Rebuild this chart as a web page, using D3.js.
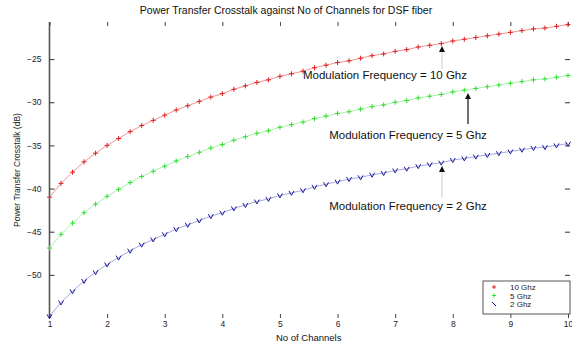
<!DOCTYPE html>
<html><head><meta charset="utf-8">
<script src="https://cdn.jsdelivr.net/npm/d3@7/dist/d3.min.js"></script>
<style>body{margin:0;background:#fff}svg{display:block;font-family:"Liberation Sans",Arial,sans-serif}</style>
</head><body>
<svg id="c" width="572" height="344"></svg>
<script>
const channels = [1,1.2,1.4,1.6,1.8,2,2.2,2.4,2.6,2.8,3,3.2,3.4,3.6,3.8,4,4.2,4.4,4.6,4.8,5,5.2,5.4,5.6,5.8,6,6.2,6.4,6.6,6.8,7,7.2,7.4,7.6,7.8,8,8.2,8.4,8.6,8.8,9,9.2,9.4,9.6,9.8,10];
const crosstalk10 = [-41.0,-39.4,-38.1,-36.9,-35.9,-35.0,-34.2,-33.4,-32.7,-32.1,-31.5,-30.9,-30.4,-29.9,-29.4,-29.0,-28.5,-28.1,-27.7,-27.4,-27.0,-26.7,-26.4,-26.0,-25.7,-25.4,-25.2,-24.9,-24.6,-24.4,-24.1,-23.9,-23.6,-23.4,-23.2,-22.9,-22.7,-22.5,-22.3,-22.1,-21.9,-21.7,-21.5,-21.4,-21.2,-21.0];
const crosstalk5 = [-46.9,-45.3,-44.0,-42.8,-41.8,-40.9,-40.1,-39.3,-38.6,-38.0,-37.4,-36.8,-36.3,-35.8,-35.3,-34.9,-34.4,-34.0,-33.6,-33.3,-32.9,-32.6,-32.3,-31.9,-31.6,-31.3,-31.1,-30.8,-30.5,-30.3,-30.0,-29.8,-29.5,-29.3,-29.1,-28.8,-28.6,-28.4,-28.2,-28.0,-27.8,-27.6,-27.4,-27.3,-27.1,-26.9];
const crosstalk2 = [-54.8,-53.2,-51.9,-50.7,-49.7,-48.8,-48.0,-47.2,-46.5,-45.9,-45.3,-44.7,-44.2,-43.7,-43.2,-42.8,-42.3,-41.9,-41.5,-41.2,-40.8,-40.5,-40.2,-39.8,-39.5,-39.2,-38.9,-38.7,-38.4,-38.2,-37.9,-37.7,-37.4,-37.2,-37.0,-36.7,-36.5,-36.3,-36.1,-35.9,-35.7,-35.5,-35.3,-35.2,-35.0,-34.8];
const seriesNames = ["10 Ghz","5 Ghz","2 Ghz"];
const xTicks = [1,2,3,4,5,6,7,8,9,10];
const yTicks = [-25,-30,-35,-40,-45,-50];
const titleText = "Power Transfer Crosstalk against No of Channels for DSF fiber";
const xLabel = "No of Channels";
const yLabel = "Power Transfer Crosstalk (dB)";
const annotations = ["Modulation Frequency = 10 Ghz","Modulation Frequency = 5 Ghz","Modulation Frequency = 2 Ghz"];

const svg = d3.select("#c");
const L=49.5, R=568, T=22, B=318;
const x = d3.scaleLinear().domain([1,10]).range([L,R]);
const y = d3.scaleLinear().domain([-55,-20.7]).range([B,T]);

// axes (ticks inward)
const gL = svg.append("g").attr("transform",`translate(${L},0)`)
  .call(d3.axisLeft(y).tickValues(yTicks).tickSize(-5).tickPadding(8).tickFormat(d3.format("d")));
gL.select(".domain").attr("stroke","#555").attr("stroke-width",1.6).attr("d",`M0,${T}V${B}`);
gL.selectAll("text").attr("font-size",8.5).attr("fill","#222");
gL.selectAll(".tick line").attr("stroke","#333");

const gR = svg.append("g").attr("transform",`translate(${R+2},0)`)
  .call(d3.axisRight(y).tickValues(yTicks).tickSize(-5).tickFormat(""));
gR.select(".domain").remove();
gR.selectAll(".tick line").attr("stroke","#333");

const gB = svg.append("g").attr("transform",`translate(0,${B})`)
  .call(d3.axisBottom(x).tickValues(xTicks).tickSize(-4).tickPadding(3).tickFormat(d3.format("d")));
gB.select(".domain").remove();
gB.selectAll("text").attr("font-size",8.5).attr("fill","#222");
gB.selectAll(".tick line").attr("stroke","#444");

const gT = svg.append("g").attr("transform",`translate(0,${T})`)
  .call(d3.axisTop(x).tickValues(xTicks).tickSize(-4).tickFormat(""));
gT.select(".domain").remove();
gT.selectAll(".tick line").attr("stroke","#444");

// series
const series = [
  {vals:crosstalk10, color:"#dd2222", line:"rgba(225,60,60,0.55)", mk:"plus"},
  {vals:crosstalk5, color:"#33dd33", line:"rgba(90,230,90,0.5)", mk:"plus"},
  {vals:crosstalk2, color:"#1a1a99", line:"rgba(60,60,190,0.45)", mk:"tri"}
];
const line = d3.line().x((d,i)=>x(channels[i])).y(d=>y(d));
series.forEach(s=>{
  svg.append("path").attr("d",line(s.vals)).attr("fill","none").attr("stroke",s.line).attr("stroke-width",1);
  const g = svg.append("g");
  s.vals.forEach((v,i)=>{
    const cx=x(channels[i]), cy=y(v);
    if(s.mk==="plus"){
      g.append("path").attr("d",`M${cx-2.5},${cy}H${cx+2.5}M${cx},${cy-2.5}V${cy+2.5}`).attr("stroke",s.color).attr("stroke-width",1);
    } else {
      g.append("path").attr("d",`M${cx-2.5},${cy-2}L${cx},${cy+2.5}L${cx+2.5},${cy-2}`).attr("fill","none").attr("stroke",s.color).attr("stroke-width",1);
    }
  });
});

// title and labels
svg.append("text").attr("x",286).attr("y",14).attr("text-anchor","middle").attr("font-size",10.5).attr("fill","#111").text(titleText);
svg.append("text").attr("x",(L+R)/2).attr("y",341).attr("text-anchor","middle").attr("font-size",9.5).attr("fill","#111").text(xLabel);
svg.append("text").attr("transform",`translate(20,${(T+B)/2}) rotate(-90)`).attr("text-anchor","middle").attr("font-size",8.5).attr("fill","#222").text(yLabel);

// annotations with arrows
const ann = [
  {t:annotations[0], tx:385, ty:79, ax:442, ay1:69, ay2:46, c:"#ccc"},
  {t:annotations[1], tx:408, ty:139, ax:468, ay1:124, ay2:93, c:"#111"},
  {t:annotations[2], tx:408, ty:210, ax:442, ay1:198, ay2:166, c:"#ccc"}
];
ann.forEach(a=>{
  svg.append("line").attr("x1",a.ax).attr("x2",a.ax).attr("y1",a.ay1).attr("y2",a.ay2+3).attr("stroke",a.c).attr("stroke-width",a.c==="#111"?1.2:1);
  svg.append("path").attr("d",`M${a.ax},${a.ay2}L${a.ax-3},${a.ay2+6}L${a.ax+3},${a.ay2+6}Z`).attr("fill","#111");
  svg.append("text").attr("x",a.tx).attr("y",a.ty).attr("text-anchor","middle").attr("font-size",11.5).attr("fill","#111").text(a.t);
});

// legend
const lg = svg.append("g");
lg.append("rect").attr("x",483).attr("y",281).attr("width",87).attr("height",33).attr("fill","#fff").attr("stroke","#555").attr("stroke-width",1);
seriesNames.forEach((n,i)=>{
  const ly = 287+i*8.5, lx=494;
  const s = series[i];
  if(s.mk==="plus"){
    lg.append("path").attr("d",`M${lx-2},${ly}H${lx+2}M${lx},${ly-2}V${ly+2}`).attr("stroke",s.color).attr("stroke-width",1);
  } else {
    lg.append("path").attr("d",`M${lx-2},${ly-2}L${lx+2},${ly+2}`).attr("stroke",s.color).attr("stroke-width",1);
  }
  lg.append("text").attr("x",510).attr("y",ly+3).attr("font-size",8).attr("fill","#222").text(n);
});
</script>
</body></html>
